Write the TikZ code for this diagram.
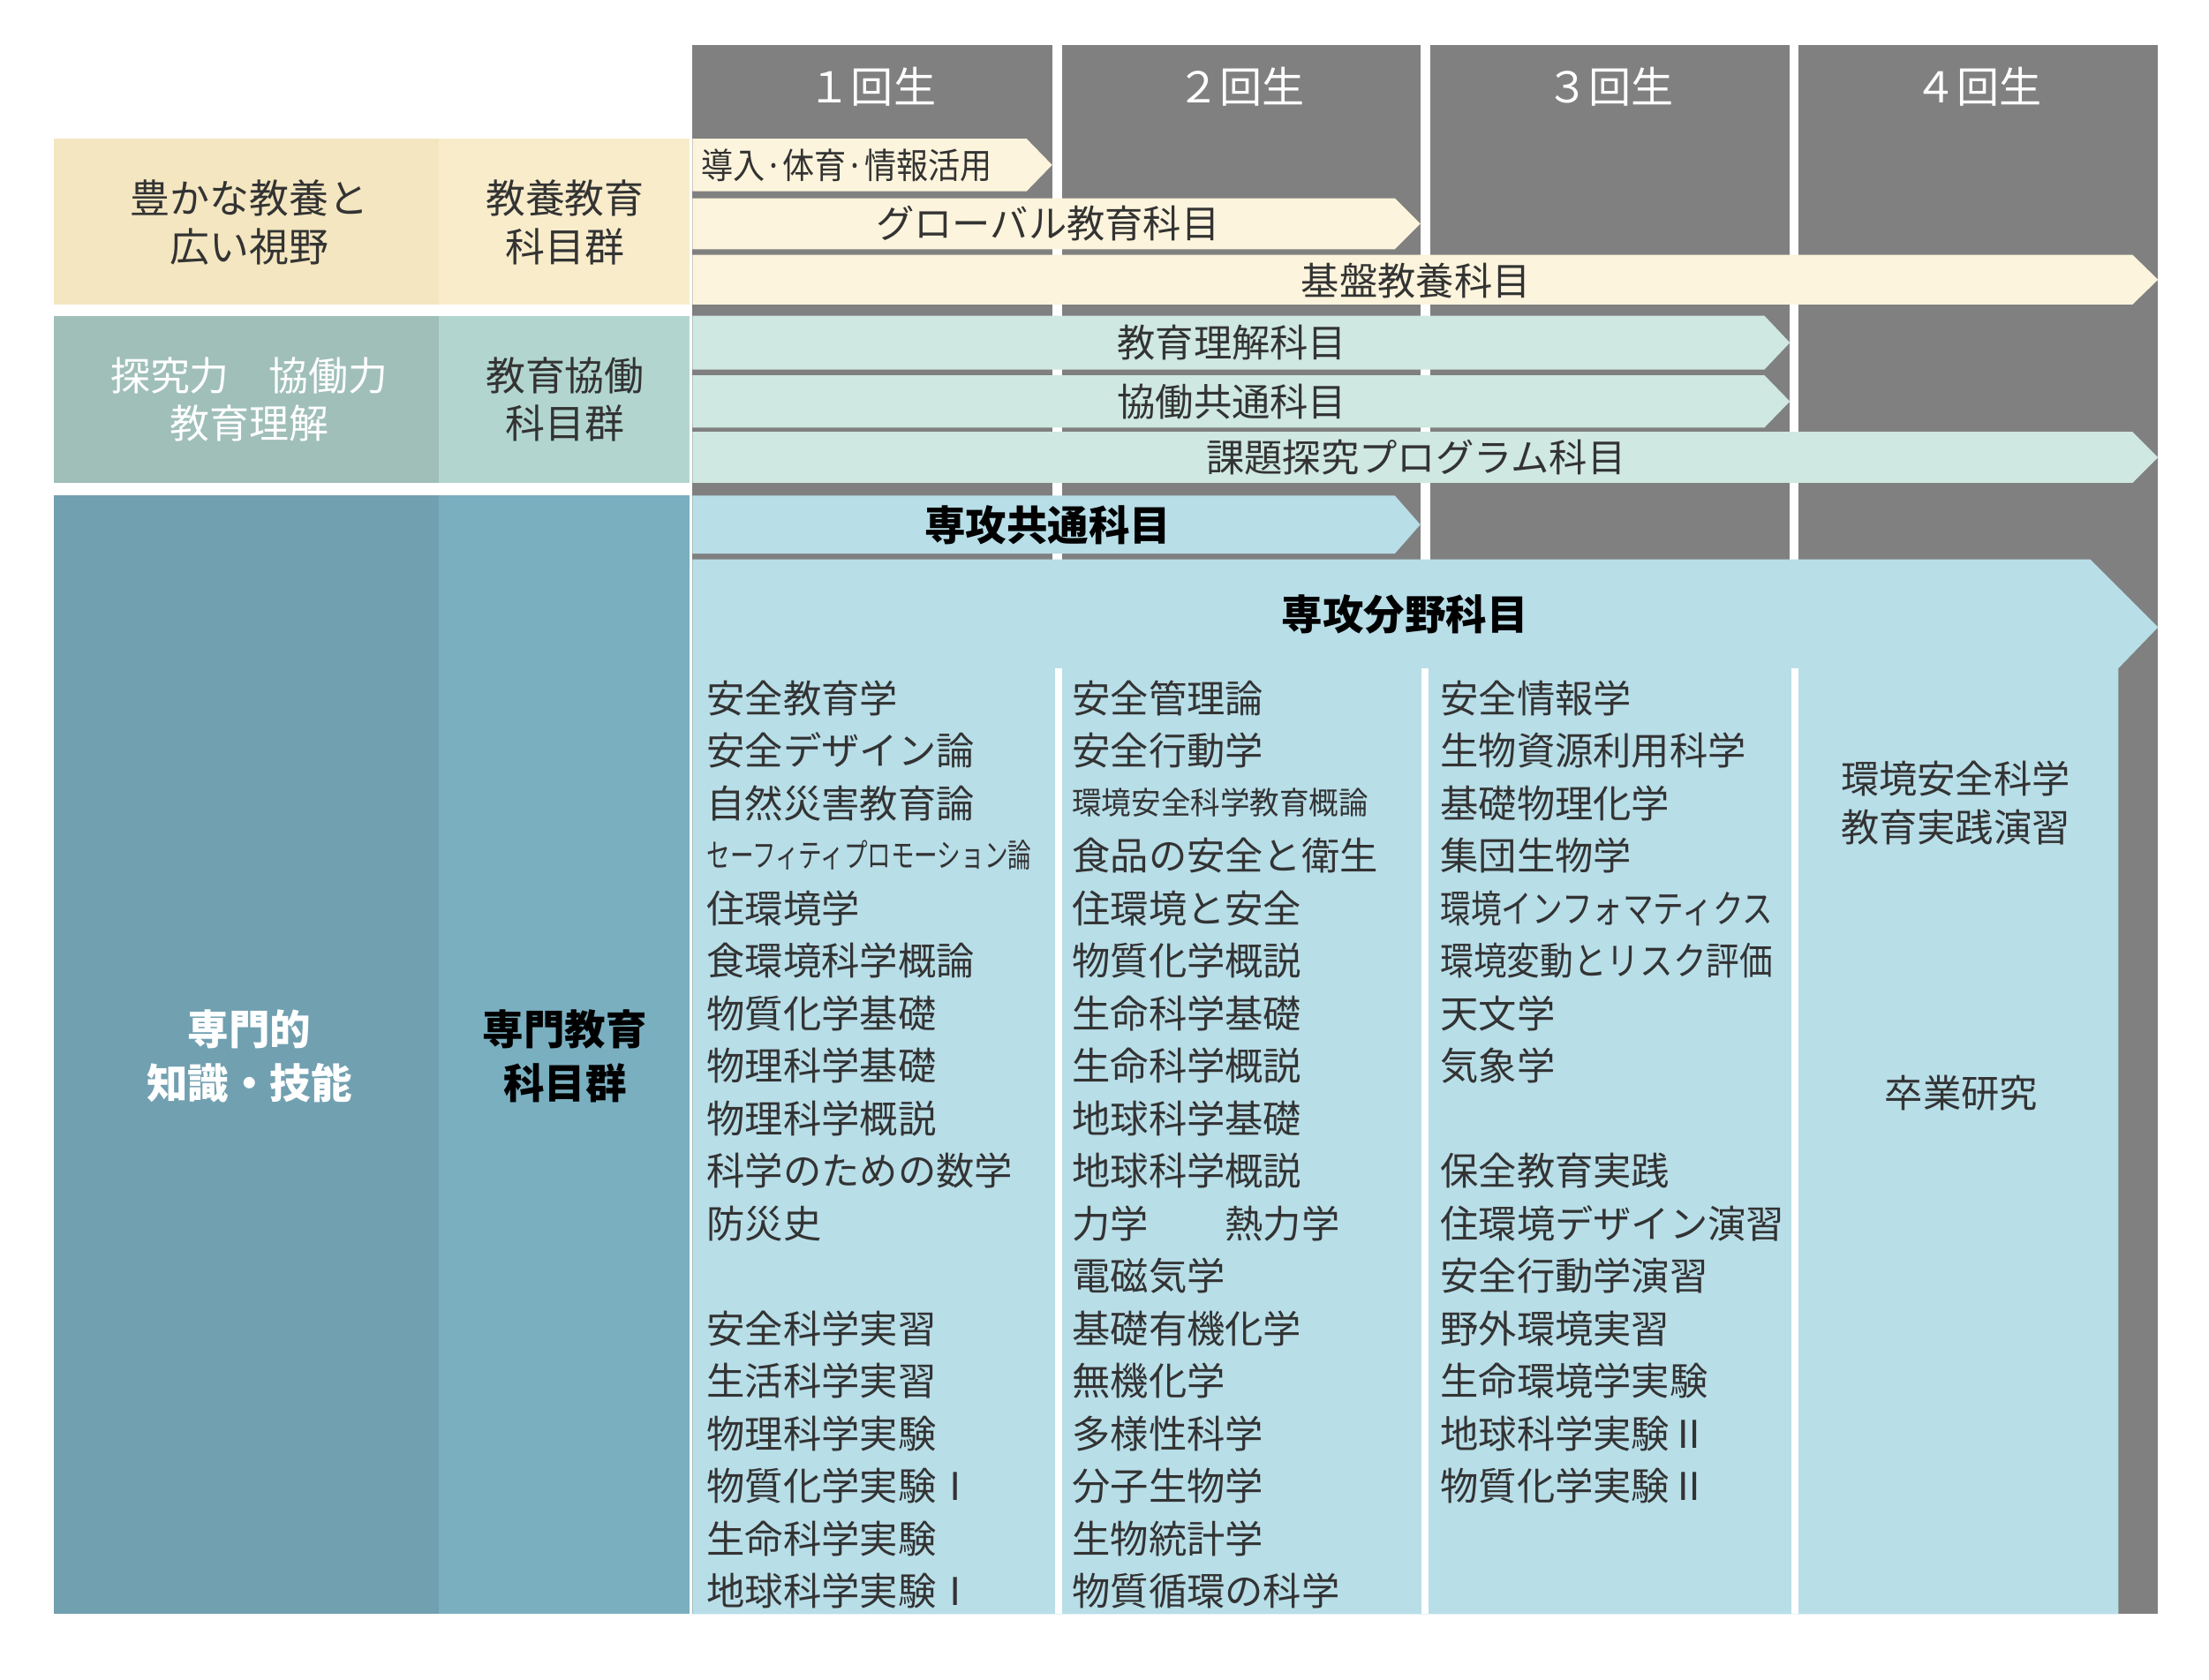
\documentclass[tikz,border=0pt]{standalone}
\usepackage{fontspec}
\usepackage{graphicx}
\setmainfont{Noto Sans CJK JP}
\definecolor{hdr}{HTML}{808080}
\definecolor{yA}{HTML}{F3E6C0}\definecolor{yB}{HTML}{F8ECCB}\definecolor{yC}{HTML}{FCF4DC}
\definecolor{gA}{HTML}{9FBFB8}\definecolor{gB}{HTML}{B2D6CF}\definecolor{gC}{HTML}{CFE8E1}
\definecolor{bA}{HTML}{71A0B0}\definecolor{bB}{HTML}{7AAFC0}\definecolor{bC}{HTML}{B8DEE8}
\definecolor{txt}{HTML}{333333}
\newcommand{\arrowbar}[5]{\fill[#5] (#1,#2) -- ({#3-18},#2) -- (#3,{(#2+#4)/2}) -- ({#3-18},#4) -- (#1,#4) -- cycle;}
\begin{document}
\begin{tikzpicture}[x=1pt,y=-1pt,
  lbl/.style={font=\fontsize{28}{34}\selectfont,text=txt,align=center,inner sep=0},
  arrtxt/.style={font=\fontsize{27}{32}\selectfont,text=txt,inner sep=0},
  item/.style={font=\fontsize{27}{32}\selectfont,text=txt,anchor=west,inner sep=0},
  hd/.style={font=\fontsize{30}{36}\selectfont,text=white,inner sep=0}]
\path[use as bounding box] (0,0) rectangle (1560,1186);
% header columns
\foreach \a/\b/\n [count=\i] in {489/743/１, 750/1003/２, 1010/1264/３, 1270/1524/４}{
  \fill[hdr] (\a,32) rectangle (\b,1140);
  \node[hd] (h\i) at ({(\a+\b)/2},61) {\n 回生};
}
% row 1
\fill[yA] (38,98) rectangle (310,215);
\fill[yB] (310,98) rectangle (487,215);
\node[lbl] (r1a) at (176,157) {豊かな教養と\\広い視野};
\node[lbl] (r1b) at (399,157) {教養教育\\科目群};
\arrowbar{489}{98}{743}{135}{yC}
\arrowbar{489}{140}{1003}{176}{yC}
\arrowbar{489}{180}{1524}{215}{yC}
\node[arrtxt,anchor=west,font=\fontsize{25}{30}\selectfont] (a1) at (495,117) {\scalebox{0.9}[1]{導入·体育·情報活用}};
\node[arrtxt] (a2) at (740,158) {グローバル教育科目};
\node[arrtxt] (a3) at (1000,198) {基盤教養科目};
% row 2
\fill[gA] (38,223) rectangle (310,341);
\fill[gB] (310,223) rectangle (487,341);
\node[lbl,text=white] (r2a) at (176,282) {探究力　協働力\\教育理解};
\node[lbl] (r2b) at (399,282) {教育協働\\科目群};
\arrowbar{489}{223}{1264}{261}{gC}
\arrowbar{489}{265}{1264}{302}{gC}
\arrowbar{489}{305}{1524}{341}{gC}
\node[arrtxt] (b1) at (870,242) {教育理解科目};
\node[arrtxt] (b2) at (870,284) {協働共通科目};
\node[arrtxt] (b3) at (1000,323) {課題探究プログラム科目};
% row 3
\fill[bA] (38,350) rectangle (310,1140);
\fill[bB] (310,350) rectangle (487,1140);
\node[lbl,text=white,font=\bfseries\fontsize{29}{38}\selectfont] (r3a) at (176,746) {専門的\\知識・技能};
\node[lbl,text=black,font=\bfseries\fontsize{29}{38}\selectfont] (r3b) at (399,746) {専門教育\\科目群};
\arrowbar{489}{350}{1003}{391}{bC}
\node[arrtxt,text=black,font=\bfseries\fontsize{29}{34}\selectfont] (c1) at (740,371) {専攻共通科目};
\fill[bC] (489,395) -- (1476,395) -- (1524,443) -- (1496,472) -- (1496,1140) -- (489,1140) -- cycle;
\node[arrtxt,text=black,font=\bfseries\fontsize{29}{34}\selectfont] (c2) at (992,434) {専攻分野科目};
\foreach \x in {745,1004,1265}{ \fill[white] (\x,472) rectangle (\x+5,1140); }
% lists
\foreach \t [count=\i] in {安全教育学,安全デザイン論,自然災害教育論,{},住環境学,食環境科学概論,物質化学基礎,物理科学基礎,物理科学概説,科学のための数学,防災史,{},安全科学実習,生活科学実習,物理科学実験,物質化学実験Ⅰ,生命科学実験,地球科学実験Ⅰ}{
  \node[item] (p\i) at (499,{493+37.1*(\i-1)}) {\t};
}
\node[item,font=\fontsize{23}{26}\selectfont] (p4x) at (499,604) {\scalebox{0.72}[1]{セーフィティプロモーション論}};
\foreach \t [count=\i] in {安全管理論,安全行動学,{},食品の安全と衛生,住環境と安全,物質化学概説,生命科学基礎,生命科学概説,地球科学基礎,地球科学概説,力学　　熱力学,電磁気学,基礎有機化学,無機化学,多様性科学,分子生物学,生物統計学,物質循環の科学}{
  \node[item] (q\i) at (757,{493+37.1*(\i-1)}) {\t};
}
\node[item,font=\fontsize{22}{26}\selectfont] (q3x) at (757,567) {\scalebox{0.95}[1]{環境安全科学教育概論}};
\foreach \t [count=\i] in {安全情報学,生物資源利用科学,基礎物理化学,集団生物学,{},{},天文学,気象学,{},保全教育実践,住環境デザイン演習,安全行動学演習,野外環境実習,生命環境学実験,地球科学実験Ⅱ,物質化学実験Ⅱ}{
  \node[item] (s\i) at (1017,{493+37.1*(\i-1)}) {\t};
}
\node[item] (s5x) at (1017,641.4) {\scalebox{0.8}[1]{環境インフォマティクス}};
\node[item] (s6x) at (1017,678.5) {\scalebox{0.87}[1]{環境変動とリスク評価}};
\node[lbl,font=\fontsize{27}{34}\selectfont] (t1) at (1381,567) {環境安全科学\\教育実践演習};
\node[lbl,font=\fontsize{27}{34}\selectfont] (t2) at (1385,772) {卒業研究};
\end{tikzpicture}
\end{document}
